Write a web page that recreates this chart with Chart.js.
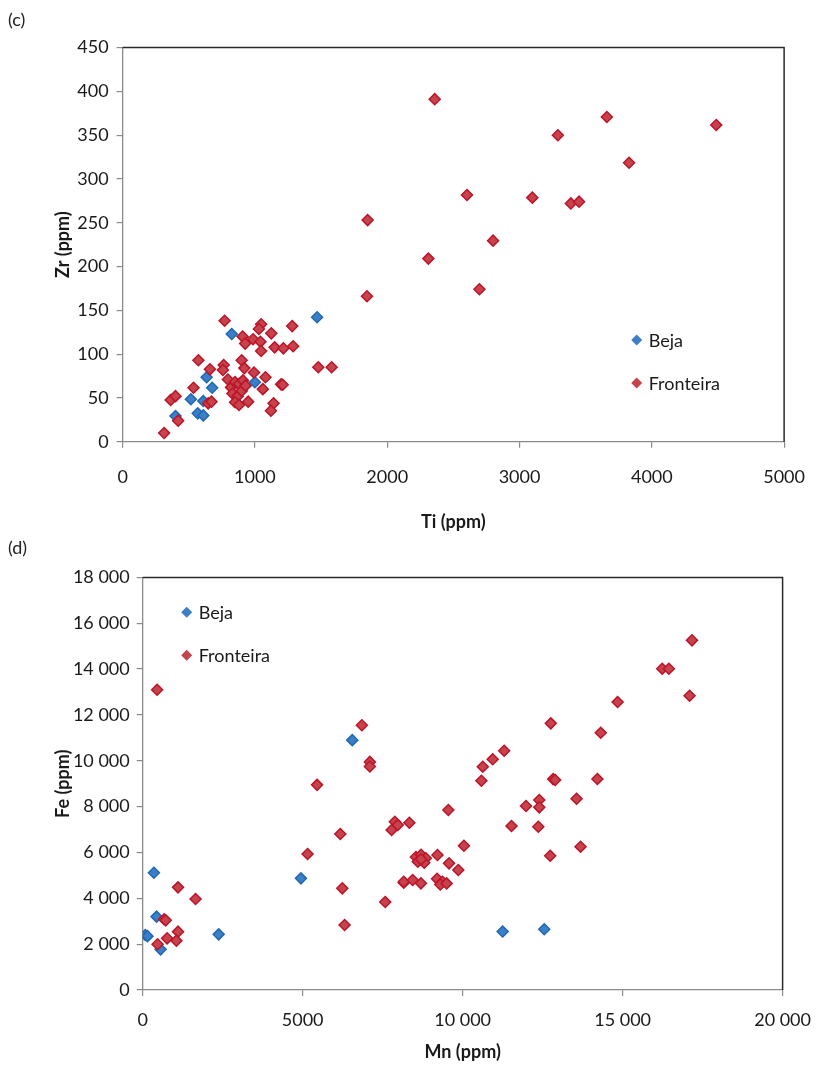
<!DOCTYPE html>
<html>
<head>
<meta charset="utf-8">
<script src="https://cdn.jsdelivr.net/npm/chart.js@4.4.1/dist/chart.umd.min.js"></script>
<style>
  html, body { margin: 0; padding: 0; background: #fff; }
  #page { position: relative; width: 824px; height: 1071px; font-family: Lato, sans-serif; }
  .tag { position: absolute; left: 8px; font-size: 18px; color: #222; }
  canvas { position: absolute; left: 0; }
</style>
</head>
<body>
<div id="page">
  <canvas id="chartC" width="824" height="540" style="top:0"></canvas>
  <canvas id="chartD" width="824" height="531" style="top:540px"></canvas>
  <div class="tag" style="top:8px">(c)</div>
  <div class="tag" style="top:536px">(d)</div>
</div>
<script>
// (c) Ti vs Zr, ppm
const bejaTiZr = [
  [825, 123], [1470, 142], [635, 73.5], [677, 61.6], [1000, 67.8],
  [516, 48.4], [610, 46.5], [400, 29.3], [568, 32.4], [610, 30]
];
const fronteiraTiZr = [
  [771, 138], [1047, 134], [1030, 128.6], [1124, 123.7], [1282, 132], [907, 120],
  [926, 112], [986, 117], [1042, 114], [1047, 103.5], [1149, 107.7], [1215, 106.6],
  [1289, 109], [1479, 85], [1580, 85], [573, 93], [660, 82.6], [764, 87.5],
  [758, 81.8], [900, 93], [920, 84], [993, 79], [1080, 73.5], [796, 71],
  [536, 61.6], [363, 47.6], [400, 52], [420, 24], [314, 10], [647, 43.8], [672, 45.7],
  [820, 62], [850, 68], [880, 66], [910, 70], [830, 55], [870, 52], [900, 58],
  [850, 45], [880, 42], [930, 64], [949, 45.7], [1060, 60], [1198, 65.5], [1210, 65],
  [1141, 43.8], [1121, 35.4],
  [2359, 391], [3660, 370.7], [4487, 361.5], [3290, 349.8], [3828, 318.5],
  [2603, 281.6], [3097, 278.6], [3388, 272], [3450, 274], [1852, 253],
  [2800, 229.5], [2311, 209], [2697, 174], [1847, 166]
];
const tiTicks = [0, 1000, 2000, 3000, 4000, 5000];
const tiLabels = ["0", "1000", "2000", "3000", "4000", "5000"];
const zrTicks = [0, 50, 100, 150, 200, 250, 300, 350, 400, 450];
const zrLabels = ["0", "50", "100", "150", "200", "250", "300", "350", "400", "450"];

// (d) Mn vs Fe, ppm
const bejaMnFe = [
  [350, 5117], [80, 2400], [150, 2350], [434, 3200], [558, 1774], [2375, 2428],
  [4946, 4870], [6550, 10900], [11250, 2550], [12550, 2650]
];
const fronteiraMnFe = [
  [450, 13100],
  [1104, 4478], [1652, 3970], [670, 3084], [720, 3040], [1104, 2545], [763, 2254],
  [1053, 2152], [465, 1995],
  [5153, 5932], [6176, 6805], [6238, 4435], [6310, 2835], [7580, 3838], [8160, 4682],
  [7780, 6980], [7880, 7340], [7973, 7197], [8335, 7298],
  [5450, 8950], [6850, 11550], [7100, 9950], [7100, 9750],
  [12755, 11633], [14316, 11224], [11298, 10439], [10939, 10064], [10629, 9742], [10586, 9130],
  [12830, 9200], [12891, 9160], [14212, 9204], [13561, 8345], [11980, 8026], [12395, 8288],
  [12395, 7969], [9553, 7852], [11527, 7154], [12364, 7124], [13685, 6251], [10040, 6295],
  [12736, 5858],
  [8540, 5800], [8700, 5900], [8850, 5750], [8600, 5600], [8800, 5550], [8700, 5700],
  [9213, 5889], [9575, 5525], [9864, 5234],
  [8159, 4725], [8438, 4798], [8696, 4653],
  [9200, 4850], [9368, 4725], [9300, 4600], [9500, 4650],
  [17168, 15254], [16238, 14016], [16445, 14016], [17093, 12838], [14843, 12563]
];
const mnTicks = [0, 5000, 10000, 15000, 20000];
const mnLabels = ["0", "5000", "10 000", "15 000", "20 000"];
const feTicks = [0, 2000, 4000, 6000, 8000, 10000, 12000, 14000, 16000, 18000];
const feLabels = ["0", "2 000", "4 000", "6 000", "8 000", "10 000", "12 000", "14 000", "16 000", "18 000"];

const FONT = "Lato, 'DejaVu Sans', sans-serif";
const AXIS = "#8a8a8a";
const TEXT = "#1a1a1a";
const BLUE = { fill: "#3d7fc6", line: "#1f68b4" };
const RED = { fill: "#c4434c", line: "#bf1328" };

const toXY = arr => arr.map(p => ({ x: p[0], y: p[1] }));

// box frame on top and right of the plot, plus the legend inside the plot
const frameLegend = {
  id: "frameLegend",
  beforeDatasetsDraw(chart) {
    const { ctx, chartArea: a } = chart;
    ctx.save();
    ctx.strokeStyle = "#2a2a2a";
    ctx.lineWidth = 1.5;
    ctx.beginPath();
    ctx.moveTo(a.left, a.top);
    ctx.lineTo(a.right, a.top);
    ctx.lineTo(a.right, a.bottom);
    ctx.stroke();
    ctx.restore();
  },
  afterDraw(chart, args, opts) {
    const ctx = chart.ctx;
    ctx.save();
    ctx.font = "18px " + FONT;
    ctx.textBaseline = "middle";
    chart.data.datasets.forEach((ds, i) => {
      const y = opts.y + i * opts.gap;
      const r = 5.5;
      ctx.fillStyle = ds.backgroundColor;
      ctx.beginPath();
      ctx.moveTo(opts.x, y - r);
      ctx.lineTo(opts.x + r, y);
      ctx.lineTo(opts.x, y + r);
      ctx.lineTo(opts.x - r, y);
      ctx.closePath();
      ctx.fill();
      ctx.fillStyle = TEXT;
      ctx.fillText(ds.label, opts.x + 12, y + 1);
    });
    ctx.restore();
  }
};

function linearAxis(min, max, ticks, labels, title, size, tickPad, titlePad, horizontal) {
  return {
    type: "linear",
    min: min,
    max: max,
    afterBuildTicks: s => { s.ticks = ticks.map(v => ({ value: v })); },
    afterFit: s => { if (horizontal) s.height = size; else s.width = size; },
    grid: { drawOnChartArea: false, drawTicks: true, tickLength: 6, color: AXIS, lineWidth: 1.2 },
    border: { color: AXIS, width: 1.3 },
    ticks: {
      padding: tickPad,
      color: TEXT,
      font: { family: FONT, size: 18 },
      callback: (v, i) => labels[i]
    },
    title: {
      display: true,
      text: title,
      color: TEXT,
      font: { family: FONT, size: 18, weight: "bold" },
      padding: horizontal ? { top: 0, bottom: titlePad } : { top: titlePad, bottom: 0 }
    }
  };
}

function scatter(id, beja, fronteira, xAxis, yAxis, pad, legend) {
  return new Chart(document.getElementById(id), {
    type: "scatter",
    data: {
      datasets: [
        {
          label: "Beja",
          data: toXY(beja),
          backgroundColor: BLUE.fill,
          borderColor: BLUE.line,
          order: 1
        },
        {
          label: "Fronteira",
          data: toXY(fronteira),
          backgroundColor: RED.fill,
          borderColor: RED.line,
          order: 0
        }
      ]
    },
    options: {
      responsive: false,
      animation: false,
      events: [],
      layout: { padding: pad },
      elements: { point: { pointStyle: "rectRot", radius: 5.5, borderWidth: 1.5 } },
      plugins: {
        legend: { display: false },
        tooltip: { enabled: false },
        frameLegend: legend
      },
      scales: { x: xAxis, y: yAxis }
    },
    plugins: [frameLegend]
  });
}

scatter("chartC", bejaTiZr, fronteiraTiZr,
  linearAxis(0, 5000, tiTicks, tiLabels, "Ti (ppm)", 98.3, 19, 7, true),
  linearAxis(0, 450, zrTicks, zrLabels, "Zr (ppm)", 122.6, 8, 52, false),
  { left: 0, right: 27, top: 47.5, bottom: 0 },
  { x: 636.7, y: 340, gap: 43 });

scatter("chartD", bejaMnFe, fronteiraMnFe,
  linearAxis(0, 20000, mnTicks, mnLabels, "Mn (ppm)", 81, 13, 8, true),
  linearAxis(0, 18000, feTicks, feLabels, "Fe (ppm)", 142.7, 7, 52, false),
  { left: 0, right: 36.1, top: 37.4, bottom: 0 },
  { x: 186.7, y: 72.3, gap: 43 });
</script>
</body>
</html>
